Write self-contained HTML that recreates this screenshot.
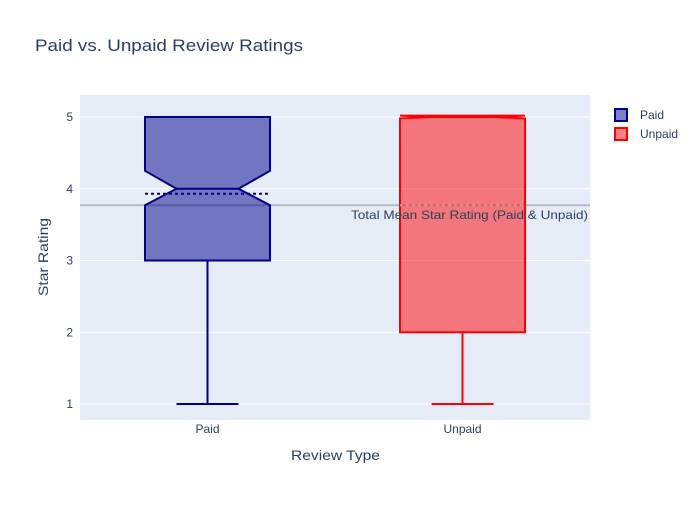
<!DOCTYPE html>
<html><head><meta charset="utf-8"><style>body{margin:0;background:#fff}svg text{font-family:"Liberation Sans",Arial,sans-serif}</style></head>
<body>
<svg id="c" width="700" height="500" xmlns="http://www.w3.org/2000/svg">
<rect width="700" height="500" fill="#fff"/>
<rect x="80" y="95" width="510" height="325" fill="#e5ecf6"/>
<g id="grid"></g>
<g id="meanlayer"></g>
<g id="marks"></g>
<text x="35" y="51" font-size="17" fill="#2a3f5f" textLength="268" lengthAdjust="spacingAndGlyphs">Paid vs. Unpaid Review Ratings</text>
<text x="291" y="460" font-size="14" fill="#2a3f5f" textLength="89" lengthAdjust="spacingAndGlyphs">Review Type</text>
<text transform="translate(48,296) rotate(-90)" font-size="14" fill="#2a3f5f" textLength="78" lengthAdjust="spacingAndGlyphs">Star Rating</text>
<g>
<g><rect x="615" y="109" width="12" height="12" fill="rgba(0,0,139,0.5)" stroke="#00008b" stroke-width="2"/><text x="640" y="119" font-size="12" fill="#2a3f5f">Paid</text></g>
<g><rect x="615" y="128" width="12" height="12" fill="rgba(255,0,0,0.5)" stroke="red" stroke-width="2"/><text x="640" y="138" font-size="12" fill="#2a3f5f">Unpaid</text></g>
</g>
</svg>
<script>
const categories=["Paid","Unpaid"];
const mins=[1,1];
const q1s=[3,2];
const medians=[4,5];
const q3s=[5,5];
const maxs=[5,5];
const means=[3.93,3.77];
const notchLo=[3.77,4.98];
const notchHi=[4.25,5.02];
const yTicks=[1,2,3,4,5];
const totalMean=3.77;
const colors=["#00008b","#ff0000"],fills=["rgba(0,0,139,0.5)","rgba(255,0,0,0.5)"];
const y=v=>404-(v-1)*71.75;
const x=i=>207.5+i*255;
const NS="http://www.w3.org/2000/svg";
function mk(t,a,p){const e=document.createElementNS(NS,t);for(const k in a)e.setAttribute(k,a[k]);p.appendChild(e);return e;}
const grid=document.getElementById('grid'),marks=document.getElementById('marks'),svg=document.getElementById('c'),ml0=document.getElementById('meanlayer');
yTicks.forEach(v=>{const l=mk('line',{x1:80,x2:590,y1:y(v),y2:y(v),stroke:'#fff','stroke-width':1},grid);


const t=mk('text',{x:73,y:y(v)+4,'font-size':12,fill:'#2a3f5f','text-anchor':'end'},svg);t.textContent=v;

});
categories.forEach((c,i)=>{const t=mk('text',{x:x(i),y:433,'font-size':12,fill:'#2a3f5f','text-anchor':'middle'},svg);t.textContent=c;

});
const ml=mk('line',{x1:80,x2:590,y1:y(totalMean),y2:y(totalMean),stroke:'#b8b8c0','stroke-width':2},ml0);


categories.forEach((c,i)=>{const cx=x(i),hw=62.5,nw=31,cw=31;
const g=mk('g',{},marks);


mk('line',{x1:cx,x2:cx,y1:y(q1s[i]),y2:y(mins[i]),stroke:colors[i],'stroke-width':2},g);
mk('line',{x1:cx-cw,x2:cx+cw,y1:y(mins[i]),y2:y(mins[i]),stroke:colors[i],'stroke-width':2},g);
if(maxs[i]>q3s[i]){mk('line',{x1:cx,x2:cx,y1:y(q3s[i]),y2:y(maxs[i]),stroke:colors[i],'stroke-width':2},g);
mk('line',{x1:cx-cw,x2:cx+cw,y1:y(maxs[i]),y2:y(maxs[i]),stroke:colors[i],'stroke-width':2},g);}
const L=cx-hw,R=cx+hw;
const top=Math.max(q3s[i],notchHi[i]),bot=Math.min(q1s[i],notchLo[i]);
const pts=[[L,y(bot)],[L,y(notchLo[i])],[cx-nw,y(medians[i])],[L,y(notchHi[i])],[L,y(top)],[R,y(top)],[R,y(notchHi[i])],[cx+nw,y(medians[i])],[R,y(notchLo[i])],[R,y(bot)]];
mk('polygon',{points:pts.map(p=>p.join(',')).join(' '),fill:fills[i],stroke:colors[i],'stroke-width':2,'stroke-linejoin':'miter'},g);
mk('line',{x1:cx-nw,x2:cx+nw,y1:y(medians[i]),y2:y(medians[i]),stroke:colors[i],'stroke-width':2},g);
mk('line',{x1:L,x2:R,y1:y(means[i]),y2:y(means[i]),stroke:i?'#c99':colors[i],'stroke-width':2,'stroke-dasharray':'3,3'},g);
});
const an=mk('text',{x:351,y:219,'font-size':12,fill:'#2a3f5f',textLength:237,lengthAdjust:'spacingAndGlyphs'},svg);an.textContent='Total Mean Star Rating (Paid & Unpaid)';


</script>
</body></html>
